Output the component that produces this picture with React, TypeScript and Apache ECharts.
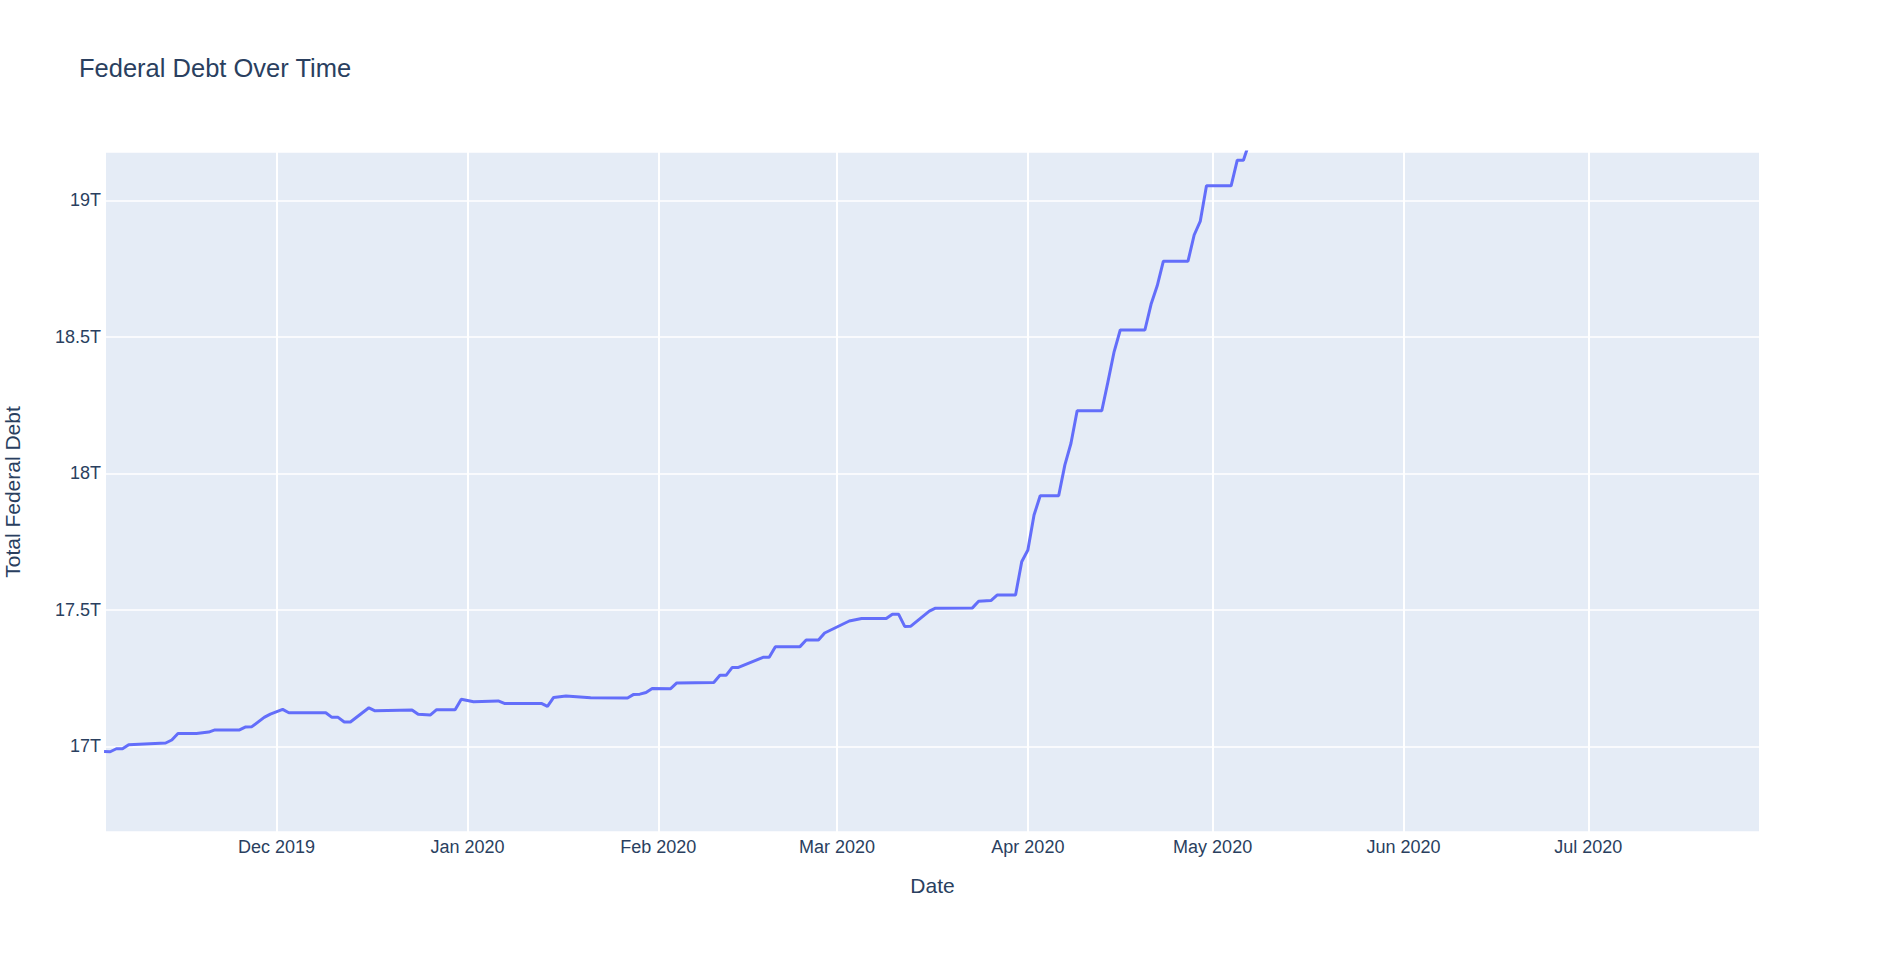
import React, { useEffect, useRef } from "react";
import * as echarts from "echarts";

const dates: string[] = [
  "2019-11-03", "2019-11-04", "2019-11-05", "2019-11-06", "2019-11-07", "2019-11-13", "2019-11-14",
  "2019-11-15", "2019-11-18", "2019-11-20", "2019-11-21", "2019-11-25", "2019-11-26", "2019-11-27",
  "2019-11-29", "2019-11-30", "2019-12-02", "2019-12-03", "2019-12-09", "2019-12-10", "2019-12-11",
  "2019-12-12", "2019-12-13", "2019-12-16", "2019-12-17", "2019-12-23", "2019-12-24", "2019-12-26",
  "2019-12-27", "2019-12-30", "2019-12-31", "2020-01-02", "2020-01-06", "2020-01-07", "2020-01-13",
  "2020-01-14", "2020-01-15", "2020-01-17", "2020-01-21", "2020-01-27", "2020-01-28", "2020-01-29",
  "2020-01-30", "2020-01-31", "2020-02-03", "2020-02-04", "2020-02-10", "2020-02-11", "2020-02-12",
  "2020-02-13", "2020-02-14", "2020-02-18", "2020-02-19", "2020-02-20", "2020-02-24", "2020-02-25",
  "2020-02-27", "2020-02-28", "2020-03-03", "2020-03-05", "2020-03-09", "2020-03-10", "2020-03-11",
  "2020-03-12", "2020-03-13", "2020-03-16", "2020-03-17", "2020-03-23", "2020-03-24", "2020-03-26",
  "2020-03-27", "2020-03-30", "2020-03-31", "2020-04-01", "2020-04-02", "2020-04-03", "2020-04-06",
  "2020-04-07", "2020-04-08", "2020-04-09", "2020-04-13", "2020-04-14", "2020-04-15", "2020-04-16",
  "2020-04-20", "2020-04-21", "2020-04-22", "2020-04-23", "2020-04-27", "2020-04-28", "2020-04-29",
  "2020-04-30", "2020-05-04", "2020-05-05", "2020-05-06", "2020-05-07",
];

// Total federal debt, trillions of dollars
const debtTrillions: number[] = [
  16.981, 16.98, 16.991, 16.991, 17.006, 17.012, 17.023,
  17.047, 17.047, 17.052, 17.06, 17.06, 17.071, 17.072,
  17.106, 17.118, 17.135, 17.123, 17.123, 17.106, 17.106,
  17.089, 17.089, 17.141, 17.13, 17.133, 17.117, 17.115,
  17.134, 17.134, 17.172, 17.163, 17.166, 17.157, 17.157,
  17.146, 17.179, 17.184, 17.178, 17.177, 17.19, 17.191,
  17.197, 17.212, 17.211, 17.232, 17.234, 17.26, 17.26,
  17.289, 17.289, 17.326, 17.326, 17.365, 17.365, 17.389,
  17.389, 17.415, 17.459, 17.468, 17.468, 17.484, 17.484,
  17.439, 17.44, 17.495, 17.506, 17.507, 17.531, 17.534,
  17.554, 17.554, 17.676, 17.719, 17.847, 17.918, 17.918,
  18.03, 18.11, 18.229, 18.229, 18.335, 18.445, 18.525,
  18.525, 18.619, 18.687, 18.777, 18.777, 18.873, 18.924,
  19.053, 19.053, 19.147, 19.147, 19.215,
];

const monthNames: string[] = ["Jan", "Feb", "Mar", "Apr", "May", "Jun", "Jul", "Aug", "Sep", "Oct", "Nov", "Dec"];

const xMin = new Date(2019, 10, 3, 3, 40).getTime();
const xMax = new Date(2020, 6, 28, 21, 0).getTime();
const yMin = 16.686;
const yMax = 19.177;

const TEXT = "#2a3f5f";
const FONT = "'Liberation Sans', Arial, sans-serif";

export default function App() {
  const ref = useRef<HTMLDivElement>(null);

  useEffect(() => {
    document.body.style.margin = "0";
    if (!ref.current) return;
    const chart = echarts.init(ref.current, null, { renderer: "svg" });
    const DAY = 86400000;
    chart.setOption({
      animation: false,
      backgroundColor: "#ffffff",
      textStyle: { fontFamily: FONT, color: TEXT },
      title: {
        text: "Federal Debt Over Time",
        left: 74,
        top: 50,
        textStyle: { fontFamily: FONT, fontSize: 25.5, fontWeight: "normal", color: TEXT },
      },
      grid: {
        left: 105,
        right: 131,
        top: 152,
        bottom: 131,
        show: true,
        backgroundColor: "#E5ECF6",
        borderWidth: 0,
        containLabel: false,
        outerBoundsMode: "none",
      },
      xAxis: {
        type: "time",
        min: xMin,
        max: xMax,
        minInterval: 28 * DAY,
        maxInterval: 31 * DAY,
        name: "Date",
        nameLocation: "middle",
        nameGap: 43,
        nameTextStyle: { fontFamily: FONT, fontSize: 21, color: TEXT },
        axisLine: { show: false },
        axisTick: { show: false },
        axisLabel: {
          fontFamily: FONT,
          fontSize: 18,
          color: TEXT,
          margin: 6,
          showMinLabel: false,
          showMaxLabel: false,
          formatter: (v: number) => {
            const d = new Date(v);
            return `${monthNames[d.getMonth()]} ${d.getFullYear()}`;
          },
        },
        splitLine: { show: true, lineStyle: { color: "#ffffff", width: 2 } },
      },
      yAxis: {
        type: "value",
        min: yMin,
        max: yMax,
        splitNumber: 5,
        name: "Total Federal Debt",
        nameLocation: "middle",
        nameGap: 82,
        nameTextStyle: { fontFamily: FONT, fontSize: 21, color: TEXT },
        axisLine: { show: false },
        axisTick: { show: false },
        axisLabel: {
          fontFamily: FONT,
          fontSize: 18,
          color: TEXT,
          margin: 4,
          showMinLabel: false,
          showMaxLabel: false,
          formatter: (v: number) => `${Math.round(v * 10) / 10}T`,
        },
        splitLine: { show: true, lineStyle: { color: "#ffffff", width: 1.5 } },
      },
      series: [
        {
          type: "line",
          data: dates.map((d, i) => [d, debtTrillions[i]]),
          showSymbol: false,
          symbol: "none",
          clip: true,
          lineStyle: { color: "#636efa", width: 3 },
          itemStyle: { color: "#636efa" },
        },
      ],
    });
    return () => chart.dispose();
  }, []);

  return (
    <div
      ref={ref}
      style={{ position: "absolute", left: 0, top: 0, width: 1891, height: 963 }}
    />
  );
}
